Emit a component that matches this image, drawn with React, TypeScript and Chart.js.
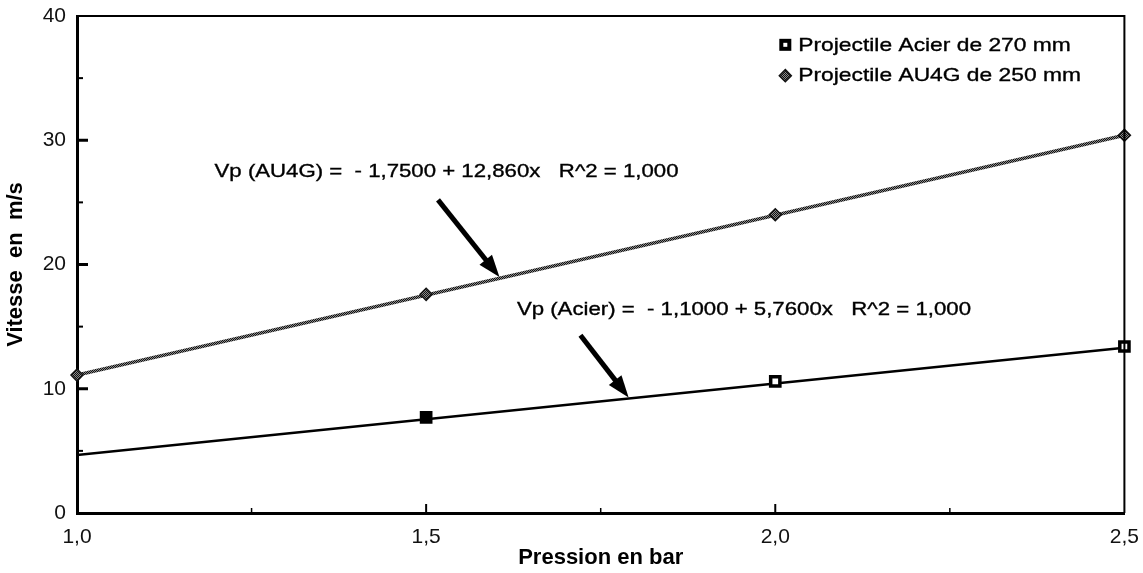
import React, { useEffect, useRef } from 'react';
import { Chart, registerables } from 'chart.js';

Chart.register(...registerables);

// ---- Data ----
const pressures = [1.0, 1.5, 2.0, 2.5];
const au4gValues = [11.1, 17.6, 24.0, 30.4];
const acierPressures = [1.5, 2.0, 2.5];
const acierValues = [7.7, 10.6, 13.4];
const fitRange = [1.0, 2.5];
const au4gFit = [11.11, 30.4];
const acierFit = [4.66, 13.3];
const xTickValues = [1.0, 1.5, 2.0, 2.5];
const xTickLabels = ['1,0', '1,5', '2,0', '2,5'];
const yTickLabelled = [0, 10, 20, 30, 40];
const legendLabels = ['Projectile Acier de 270 mm', 'Projectile AU4G de 250 mm'];
const equationLabels = [
  'Vp (AU4G) =  - 1,7500 + 12,860x   R^2 = 1,000',
  'Vp (Acier) =  - 1,1000 + 5,7600x   R^2 = 1,000',
];
const xTitle = 'Pression en bar';
const yTitle = 'Vitesse  en  m/s';

// annotation anchors (data units)
const equationAnchors = [
  { x: 1.197, y: 27.45 },
  { x: 1.63, y: 16.35 },
];
const arrowAnchors = [
  { from: { x: 1.517, y: 25.2 }, to: { x: 1.605, y: 19.0 } },
  { from: { x: 1.721, y: 14.3 }, to: { x: 1.79, y: 9.3 } },
];
const legendAnchor = { x: 2.033, y: 37.6, y2: 35.2 };

const FONT = '"Liberation Sans", Arial, Helvetica, sans-serif';
const STRETCH = 1.2;

function makePattern(): CanvasPattern | string {
  const c = document.createElement('canvas');
  c.width = 2;
  c.height = 2;
  const g = c.getContext('2d');
  if (!g) return '#555';
  g.fillStyle = '#8a8a8a';
  g.fillRect(0, 0, 2, 2);
  g.fillStyle = '#111';
  g.fillRect(0, 0, 1, 1);
  g.fillRect(1, 1, 1, 1);
  const p = g.createPattern(c, 'repeat');
  return p || '#555';
}

function stretchedText(ctx: CanvasRenderingContext2D, text: string, x: number, y: number, font: string) {
  ctx.save();
  ctx.translate(x, y);
  ctx.scale(STRETCH, 1);
  ctx.font = font;
  ctx.fillStyle = '#000';
  ctx.strokeStyle = '#000';
  ctx.lineWidth = 0.35;
  ctx.textAlign = 'left';
  ctx.textBaseline = 'middle';
  ctx.fillText(text, 0, 0);
  ctx.strokeText(text, 0, 0);
  ctx.restore();
}

function drawArrow(ctx: CanvasRenderingContext2D, x1: number, y1: number, x2: number, y2: number) {
  const ang = Math.atan2(y2 - y1, x2 - x1);
  const headLen = 22;
  const headW = 8;
  const bx = x2 - headLen * Math.cos(ang);
  const by = y2 - headLen * Math.sin(ang);
  ctx.strokeStyle = '#000';
  ctx.fillStyle = '#000';
  ctx.lineWidth = 5;
  ctx.lineCap = 'butt';
  ctx.beginPath();
  ctx.moveTo(x1, y1);
  ctx.lineTo(bx + 2 * Math.cos(ang), by + 2 * Math.sin(ang));
  ctx.stroke();
  ctx.beginPath();
  ctx.moveTo(x2, y2);
  ctx.lineTo(bx + headW * Math.sin(ang), by - headW * Math.cos(ang));
  ctx.lineTo(bx - headW * Math.sin(ang), by + headW * Math.cos(ang));
  ctx.closePath();
  ctx.fill();
}

export default function App() {
  const canvasRef = useRef<HTMLCanvasElement | null>(null);

  useEffect(() => {
    document.body.style.margin = '0';
    const canvas = canvasRef.current;
    if (!canvas) return;
    const pattern = makePattern();

    const overlayPlugin = {
      id: 'overlay',
      afterDraw(chart: any) {
        const { ctx, chartArea: a } = chart;
        const xs = chart.scales.x;
        const ys = chart.scales.y;
        ctx.save();
        // top & right frame
        ctx.strokeStyle = '#000';
        ctx.lineWidth = 2;
        ctx.beginPath();
        ctx.moveTo(a.left, a.top);
        ctx.lineTo(a.right, a.top);
        ctx.lineTo(a.right, a.bottom);
        ctx.stroke();

        // inner y ticks
        ys.ticks.forEach((t: any) => {
          if (t.value <= ys.min || t.value >= ys.max) return;
          const py = ys.getPixelForValue(t.value);
          const major = t.value % 10 === 0;
          ctx.lineWidth = major ? 3 : 2;
          ctx.beginPath();
          ctx.moveTo(a.left, py);
          ctx.lineTo(a.left + (major ? 11 : 6), py);
          ctx.stroke();
        });
        // inner x ticks (major + midpoints)
        const xt = xs.ticks.map((t: any) => t.value);
        for (let i = 0; i < xt.length; i++) {
          if (i > 0 && i < xt.length - 1) {
            const px = xs.getPixelForValue(xt[i]);
            ctx.lineWidth = 2;
            ctx.beginPath();
            ctx.moveTo(px, a.bottom);
            ctx.lineTo(px, a.bottom - 9);
            ctx.stroke();
          }
          if (i < xt.length - 1) {
            const px = xs.getPixelForValue((xt[i] + xt[i + 1]) / 2);
            ctx.lineWidth = 1.5;
            ctx.beginPath();
            ctx.moveTo(px, a.bottom);
            ctx.lineTo(px, a.bottom - 5);
            ctx.stroke();
          }
        }

        // equations
        equationLabels.forEach((txt, i) => {
          const p = equationAnchors[i];
          stretchedText(ctx, txt, xs.getPixelForValue(p.x), ys.getPixelForValue(p.y), `18.5px ${FONT}`);
        });
        // arrows
        arrowAnchors.forEach((ar) => {
          drawArrow(
            ctx,
            xs.getPixelForValue(ar.from.x),
            ys.getPixelForValue(ar.from.y),
            xs.getPixelForValue(ar.to.x),
            ys.getPixelForValue(ar.to.y)
          );
        });

        // legend
        const lx = xs.getPixelForValue(legendAnchor.x);
        const ly1 = ys.getPixelForValue(legendAnchor.y);
        const ly2 = ys.getPixelForValue(legendAnchor.y2);
        // acier marker
        ctx.fillStyle = '#000';
        ctx.fillRect(lx - 19, ly1 - 7, 12, 12);
        ctx.fillStyle = '#fff';
        ctx.fillRect(lx - 15, ly1 - 3, 4, 4);
        // au4g marker
        ctx.fillStyle = pattern as any;
        ctx.strokeStyle = '#111';
        ctx.lineWidth = 1.5;
        ctx.beginPath();
        ctx.moveTo(lx - 13, ly2 - 6);
        ctx.lineTo(lx - 7, ly2);
        ctx.lineTo(lx - 13, ly2 + 6);
        ctx.lineTo(lx - 19, ly2);
        ctx.closePath();
        ctx.fill();
        ctx.stroke();
        stretchedText(ctx, legendLabels[0], lx, ly1, `19px ${FONT}`);
        stretchedText(ctx, legendLabels[1], lx, ly2, `19px ${FONT}`);
        ctx.restore();
      },
    };

    const chart = new Chart(canvas, {
      type: 'scatter',
      data: {
        datasets: [
          {
            label: 'fit AU4G',
            data: fitRange.map((x, i) => ({ x, y: au4gFit[i] })),
            showLine: true,
            borderColor: pattern as any,
            borderWidth: 3.5,
            pointRadius: 0,
            order: 3,
          },
          {
            label: 'fit Acier',
            data: fitRange.map((x, i) => ({ x, y: acierFit[i] })),
            showLine: true,
            borderColor: '#000',
            borderWidth: 2.5,
            pointRadius: 0,
            order: 3,
          },
          {
            label: legendLabels[1],
            data: pressures.map((x, i) => ({ x, y: au4gValues[i] })),
            showLine: false,
            pointStyle: 'rectRot',
            pointRadius: 6,
            backgroundColor: pattern as any,
            borderColor: '#111',
            borderWidth: 1.5,
            clip: false as any,
            order: 1,
          },
          {
            label: legendLabels[0],
            data: acierPressures.map((x, i) => ({ x, y: acierValues[i] })),
            showLine: false,
            pointStyle: 'rect',
            pointRadius: 6.5,
            backgroundColor: ['#000', '#fff', '#fff'],
            borderColor: '#000',
            borderWidth: 3.5,
            clip: false as any,
            order: 1,
          },
        ],
      },
      options: {
        animation: false,
        responsive: false,
        events: [],
        layout: { padding: { top: 16, right: 13, left: 0, bottom: 0 } },
        plugins: { legend: { display: false }, tooltip: { enabled: false } },
        scales: {
          x: {
            type: 'linear',
            min: 1,
            max: 2.5,
            ticks: {
              stepSize: 0.5,
              autoSkip: false,
              maxRotation: 0,
              padding: 4,
              color: '#111',
              font: { family: FONT, size: 21 },
              callback: (v: any) => {
                const idx = xTickValues.findIndex((t) => Math.abs(t - Number(v)) < 1e-6);
                return idx >= 0 ? xTickLabels[idx] : '';
              },
            },
            grid: { display: false },
            border: { display: true, color: '#000', width: 3 },
            title: {
              display: true,
              text: xTitle,
              color: '#000',
              font: { family: FONT, size: 22, weight: 'bold' },
              padding: { top: 2, bottom: 2 },
            },
            afterFit: (s: any) => {
              s.height = 60;
            },
          },
          y: {
            type: 'linear',
            min: 0,
            max: 40,
            ticks: {
              stepSize: 5,
              autoSkip: false,
              padding: 3,
              color: '#111',
              font: { family: FONT, size: 21 },
              callback: (v: any) => (yTickLabelled.includes(Number(v)) ? String(v) : ''),
            },
            grid: { display: false },
            border: { display: true, color: '#000', width: 3 },
            title: {
              display: true,
              text: yTitle,
              color: '#000',
              font: { family: FONT, size: 22, weight: 'bold' },
              padding: { top: 3, bottom: 3 },
            },
            afterFit: (s: any) => {
              s.width = 77;
            },
          },
        },
      } as any,
      plugins: [overlayPlugin],
    });

    return () => {
      chart.destroy();
    };
  }, []);

  return (
    <div style={{ width: 1143, height: 573, background: '#fff' }}>
      <canvas ref={canvasRef} width={1143} height={573} style={{ display: 'block' }} />
    </div>
  );
}
